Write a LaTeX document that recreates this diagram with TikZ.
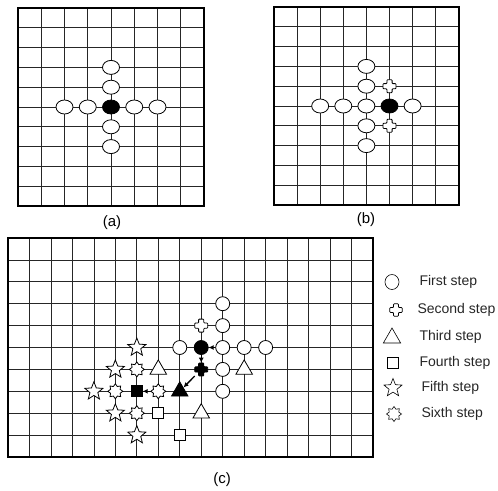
\documentclass[tikz,border=0pt]{standalone}
\usepackage{fontspec}
\setmainfont{Liberation Sans}
\usetikzlibrary{shapes.geometric,arrows.meta}

\tikzset{
  plusstone/.pic={
    \path[pic actions, draw=black, line width=0.8pt, rounded corners=0.8pt]
      (-2.6pt,-6.5pt) -- (2.6pt,-6.5pt) -- (2.6pt,-2.6pt) -- (6.5pt,-2.6pt) -- (6.5pt,2.6pt)
      -- (2.6pt,2.6pt) -- (2.6pt,6.5pt) -- (-2.6pt,6.5pt) -- (-2.6pt,2.6pt) -- (-6.5pt,2.6pt)
      -- (-6.5pt,-2.6pt) -- (-2.6pt,-2.6pt) -- cycle;
    \node[inner sep=0pt, minimum size=13pt] (-n) {};
  }
}

\begin{document}
\begin{tikzpicture}[x=1pt, y=-1pt,
    gridline/.style={line width=0.7pt, black!85},
    gridframe/.style={line width=1.5pt},
    stone/.style={draw=black, line width=0.8pt, fill=white, inner sep=0pt},
    first/.style={stone, ellipse, minimum width=17pt, minimum height=14pt},
    third/.style={stone, regular polygon, regular polygon sides=3, minimum size=19pt},
    fourth/.style={stone, rectangle, minimum size=11pt},
    fifth/.style={stone, star, star points=5, star point ratio=2.3, minimum size=19pt},
    sixth/.style={stone, star, star points=8, star point ratio=1.45, minimum size=15pt},
    played/.style={fill=black},
    move/.style={-{Latex[length=5pt,width=5pt]}, line width=1.3pt},
    lbl/.style={font=\fontsize{14}{16}\selectfont, text=black!85},
    panellbl/.style={font=\fontsize{15}{17}\selectfont},
]
\useasboundingbox (0,0) rectangle (498,490);

% (a)
\begin{scope}[shift={(18,8)}, x=23.25pt, y=-19.8pt]
  \foreach \i in {1,...,7} \draw[gridline] (\i,0) -- (\i,10);
  \foreach \j in {1,...,9} \draw[gridline] (0,\j) -- (8,\j);
  \draw[gridframe] (0,0) rectangle (8,10);
  \node[first] (a1) at (4,3) {};
  \node[first] (a2) at (4,4) {};
  \node[first] (a3) at (4,6) {};
  \node[first] (a4) at (4,7) {};
  \node[first] (a5) at (2,5) {};
  \node[first] (a6) at (3,5) {};
  \node[first] (a7) at (5,5) {};
  \node[first] (a8) at (6,5) {};
  \node[first, played] (a0) at (4,5) {};
\end{scope}
\node[panellbl] (capa) at (112,223) {(a)};

% (b)
\begin{scope}[shift={(274,7)}, x=23.1pt, y=-19.8pt]
  \foreach \i in {1,...,7} \draw[gridline] (\i,0) -- (\i,10);
  \foreach \j in {1,...,9} \draw[gridline] (0,\j) -- (8,\j);
  \draw[gridframe] (0,0) rectangle (8,10);
  \node[first] (b1) at (4,3) {};
  \node[first] (b2) at (4,4) {};
  \node[first] (b3) at (4,5) {};
  \node[first] (b4) at (4,6) {};
  \node[first] (b5) at (4,7) {};
  \node[first] (b6) at (2,5) {};
  \node[first] (b7) at (3,5) {};
  \node[first] (b8) at (6,5) {};
  \node[first, played] (b0) at (5,5) {};
  \pic[fill=white] (b9) at (5,4) {plusstone};
  \pic[fill=white] (b10) at (5,6) {plusstone};
\end{scope}
\node[panellbl] (capb) at (366,220) {(b)};

% (c)
\begin{scope}[shift={(8,238)}, x=21.47pt, y=-21.9pt,
    first/.append style={minimum width=14pt, minimum height=14pt}]
  \foreach \i in {1,...,16} \draw[gridline] (\i,0) -- (\i,10);
  \foreach \j in {1,...,9} \draw[gridline] (0,\j) -- (17,\j);
  \draw[gridframe] (0,0) rectangle (17,10);
  % first step
  \node[first] (c1a) at (10,3) {};
  \node[first] (c1b) at (10,4) {};
  \node[first] (c1c) at (10,5) {};
  \node[first] (c1d) at (10,6) {};
  \node[first] (c1e) at (10,7) {};
  \node[first] (c1f) at (8,5) {};
  \node[first] (c1g) at (11,5) {};
  \node[first] (c1h) at (12,5) {};
  \node[first, played] (c1k) at (9,5) {};
  % second step
  \pic[fill=white] (c2a) at (9,4) {plusstone};
  \pic[fill=black] (c2k) at (9,6) {plusstone};
  % third step
  \node[third] (c3a) at (11,6) {};
  \node[third] (c3b) at (9,8) {};
  \node[third] (c3c) at (7,6) {};
  \node[third, played] (c3k) at (8,7) {};
  % fourth step
  \node[fourth] (c4a) at (8,9) {};
  \node[fourth] (c4b) at (7,8) {};
  \node[fourth, played] (c4k) at (6,7) {};
  % fifth step
  \node[fifth] (c5a) at (6,5) {};
  \node[fifth] (c5b) at (5,6) {};
  \node[fifth] (c5c) at (4,7) {};
  \node[fifth] (c5d) at (5,8) {};
  \node[fifth] (c5e) at (6,9) {};
  % sixth step
  \node[sixth] (c6a) at (6,6) {};
  \node[sixth] (c6b) at (5,7) {};
  \node[sixth] (c6c) at (7,7) {};
  \node[sixth] (c6d) at (6,8) {};
  % moves
  \draw[move] (c1c) -- (c1k);
  \draw[move] (c1k) -- (c2k-n);
  \draw[move] (c2k-n) -- (c3k);
  \draw[move] (c6c) -- (c4k);
\end{scope}
\node[panellbl] (capc) at (222,480) {(c)};

% legend
\node[first, line width=0.6pt, minimum width=14pt, minimum height=15pt] (k1) at (392,282) {};
\node[lbl, anchor=west] (t1) at (416,282) {First step};
\pic[fill=white, scale=0.95] (k2) at (396,310) {plusstone};
\node[lbl, anchor=west] (t2) at (414,310) {Second step};
\node[third, line width=0.6pt, minimum size=20pt] (k3) at (392,338) {};
\node[lbl, anchor=west] (t3) at (416,337) {Third step};
\node[fourth, line width=0.6pt] (k4) at (393,363) {};
\node[lbl, anchor=west] (t4) at (416,363) {Fourth step};
\node[fifth, line width=0.6pt] (k5) at (393,388) {};
\node[lbl, anchor=west] (t5) at (418,388) {Fifth step};
\node[sixth, line width=0.6pt] (k6) at (394,414) {};
\node[lbl, anchor=west] (t6) at (418,414) {Sixth step};
\end{tikzpicture}
\end{document}
